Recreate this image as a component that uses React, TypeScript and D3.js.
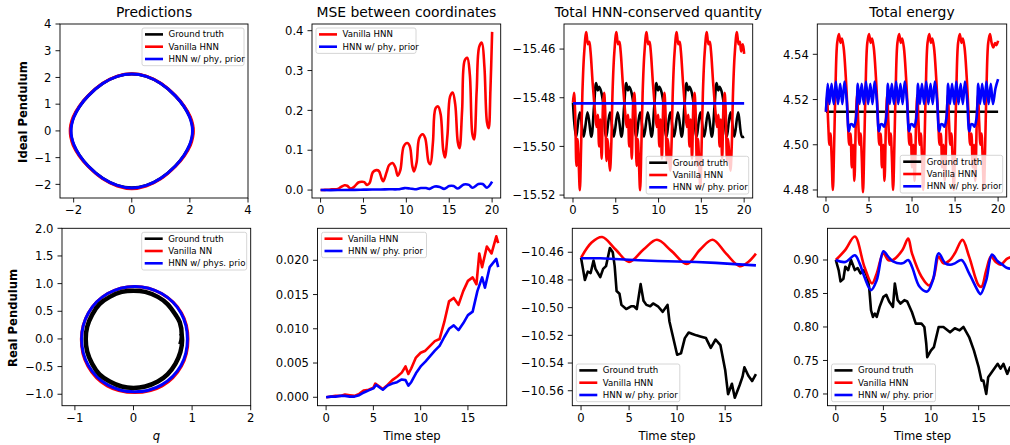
import React from "react";
import * as d3 from "d3";

type Pt = [number, number];

// ---------- Ideal pendulum: phase-space trajectories (q, p) ----------
const idealGroundTruth: Pt[] = [
  [-2.1, 0], [-2.08, 0.23], [-2.0, 0.52], [-1.8, 0.91], [-1.5, 1.31], [-1.0, 1.77], [-0.5, 2.04],
  [0, 2.13], [0.5, 2.04], [1.0, 1.77], [1.5, 1.31], [1.8, 0.91], [2.0, 0.52], [2.08, 0.23],
  [2.1, 0], [2.08, -0.23], [2.0, -0.52], [1.8, -0.91], [1.5, -1.31], [1.0, -1.77], [0.5, -2.04],
  [0, -2.13], [-0.5, -2.04], [-1.0, -1.77], [-1.5, -1.31], [-1.8, -0.91], [-2.0, -0.52], [-2.08, -0.23],
];
const idealVanilla: Pt[] = [
  [-2.12, 0], [-2.1, 0.23], [-2.02, 0.52], [-1.81, 0.92], [-1.5, 1.32], [-1.0, 1.78], [-0.5, 2.05],
  [0, 2.14], [0.5, 2.05], [1.0, 1.78], [1.5, 1.32], [1.81, 0.92], [2.02, 0.52], [2.1, 0.23],
  [2.12, 0], [2.1, -0.23], [2.02, -0.53], [1.81, -0.93], [1.5, -1.33], [1.0, -1.79], [0.5, -2.06],
  [0, -2.16], [-0.5, -2.06], [-1.0, -1.79], [-1.5, -1.33], [-1.81, -0.93], [-2.02, -0.53], [-2.1, -0.23],
];
const idealPrior: Pt[] = [
  [-2.09, 0], [-2.07, 0.23], [-1.99, 0.52], [-1.8, 0.91], [-1.5, 1.31], [-1.0, 1.77], [-0.5, 2.04],
  [0, 2.13], [0.5, 2.04], [1.0, 1.77], [1.5, 1.31], [1.8, 0.91], [1.99, 0.52], [2.07, 0.23],
  [2.09, 0], [2.07, -0.23], [1.99, -0.52], [1.8, -0.91], [1.5, -1.31], [1.0, -1.77], [0.5, -2.04],
  [0, -2.14], [-0.5, -2.04], [-1.0, -1.77], [-1.5, -1.31], [-1.8, -0.91], [-1.99, -0.52], [-2.07, -0.23],
];

// ---------- Ideal pendulum: MSE between coordinates ----------
const mseIdealVanilla: Pt[] = [
  [0, 0], [0.5, 0.0005], [1, 0.001], [1.5, 0.002], [2, 0.003], [2.4, 0.008], [2.8, 0.012], [3.1, 0.011],
  [3.5, 0.004], [3.9, 0.008], [4.4, 0.019], [4.8, 0.021], [5.1, 0.02], [5.4, 0.013], [5.7, 0.017],
  [6.1, 0.045], [6.5, 0.05], [6.8, 0.048], [7.1, 0.03], [7.3, 0.022], [7.7, 0.045], [8.0, 0.063],
  [8.4, 0.068], [8.7, 0.058], [9.0, 0.036], [9.3, 0.05], [9.7, 0.11], [10.1, 0.118], [10.4, 0.11],
  [10.7, 0.06], [10.9, 0.047], [11.2, 0.07], [11.5, 0.13], [11.9, 0.14], [12.2, 0.13], [12.6, 0.07],
  [12.8, 0.065], [13.1, 0.12], [13.4, 0.205], [13.7, 0.21], [14.0, 0.19], [14.3, 0.1], [14.5, 0.082],
  [14.8, 0.14], [15.1, 0.235], [15.4, 0.245], [15.7, 0.215], [16.0, 0.12], [16.2, 0.105], [16.5, 0.2],
  [16.8, 0.325], [17.1, 0.332], [17.4, 0.29], [17.7, 0.14], [17.9, 0.127], [18.2, 0.25], [18.5, 0.36],
  [18.8, 0.37], [19.1, 0.31], [19.4, 0.17], [19.6, 0.155], [19.8, 0.25], [20, 0.397],
];
const mseIdealPrior: Pt[] = [
  [0, 0], [2, 0], [4, 0.0005], [5, 0.001], [6, 0.0015], [7, 0.0015], [8, 0.002], [9, 0.002],
  [9.8, 0.005], [10.4, 0.004], [11, 0.002], [11.7, 0.005], [12.3, 0.005], [12.7, 0.003], [13.3, 0.009],
  [13.9, 0.008], [14.4, 0.003], [15, 0.01], [15.5, 0.01], [16, 0.004], [16.7, 0.014], [17.3, 0.013],
  [17.7, 0.006], [18.4, 0.015], [18.9, 0.015], [19.4, 0.006], [20, 0.021],
];

// ---------- Ideal pendulum: total HNN-conserved quantity ----------
const hnnIdealGroundTruth: Pt[] = [
  [0, -15.482], [0.35, -15.496], [0.8, -15.486], [1.25, -15.496], [1.7, -15.486], [2.15, -15.496],
  [2.45, -15.484], [2.7, -15.474], [2.9, -15.477], [3.05, -15.4755], [3.25, -15.477],
  [3.52, -15.482], [3.87, -15.496], [4.32, -15.486], [4.77, -15.496], [5.22, -15.486], [5.67, -15.496],
  [5.97, -15.484], [6.22, -15.474], [6.42, -15.477], [6.57, -15.4755], [6.77, -15.477],
  [7.04, -15.482], [7.39, -15.496], [7.84, -15.486], [8.29, -15.496], [8.74, -15.486], [9.19, -15.496],
  [9.49, -15.484], [9.74, -15.474], [9.94, -15.477], [10.09, -15.4755], [10.29, -15.477],
  [10.56, -15.482], [10.91, -15.496], [11.36, -15.486], [11.81, -15.496], [12.26, -15.486], [12.71, -15.496],
  [13.01, -15.484], [13.26, -15.474], [13.46, -15.477], [13.61, -15.4755], [13.81, -15.477],
  [14.08, -15.482], [14.43, -15.496], [14.88, -15.486], [15.33, -15.496], [15.78, -15.486], [16.23, -15.496],
  [16.53, -15.484], [16.78, -15.474], [16.98, -15.477], [17.13, -15.4755], [17.33, -15.477],
  [17.6, -15.482], [17.95, -15.496], [18.4, -15.486], [18.85, -15.496], [19.3, -15.486], [19.75, -15.496],
  [20, -15.496],
];
const hnnIdealVanilla: Pt[] = [
  [0, -15.482], [0.12, -15.478], [0.25, -15.486], [0.4, -15.508], [0.52, -15.497], [0.65, -15.505],
  [0.8, -15.518], [0.95, -15.5], [1.1, -15.478], [1.3, -15.462], [1.55, -15.453], [1.75, -15.458],
  [1.9, -15.457], [2.05, -15.461], [2.3, -15.474], [2.55, -15.485], [2.75, -15.492], [2.9, -15.487],
  [3.05, -15.5], [3.2, -15.489], [3.35, -15.505],
  [3.52, -15.482], [3.64, -15.478], [3.77, -15.486], [3.92, -15.506], [4.04, -15.497], [4.17, -15.503],
  [4.32, -15.51], [4.47, -15.5], [4.62, -15.478], [4.82, -15.462], [5.07, -15.453], [5.27, -15.458],
  [5.42, -15.457], [5.57, -15.461], [5.82, -15.474], [6.07, -15.485], [6.27, -15.492], [6.42, -15.487],
  [6.57, -15.5], [6.72, -15.489], [6.87, -15.505],
  [7.04, -15.482], [7.16, -15.478], [7.29, -15.486], [7.44, -15.508], [7.56, -15.497], [7.69, -15.505],
  [7.84, -15.518], [7.99, -15.5], [8.14, -15.478], [8.34, -15.462], [8.59, -15.453], [8.79, -15.458],
  [8.94, -15.457], [9.09, -15.461], [9.34, -15.474], [9.59, -15.485], [9.79, -15.492], [9.94, -15.487],
  [10.09, -15.5], [10.24, -15.489], [10.39, -15.505],
  [10.56, -15.482], [10.68, -15.478], [10.81, -15.486], [10.96, -15.506], [11.08, -15.497], [11.21, -15.503],
  [11.36, -15.51], [11.51, -15.5], [11.66, -15.478], [11.86, -15.462], [12.11, -15.453], [12.31, -15.458],
  [12.46, -15.457], [12.61, -15.461], [12.86, -15.474], [13.11, -15.485], [13.31, -15.492], [13.46, -15.487],
  [13.61, -15.5], [13.76, -15.489], [13.91, -15.505],
  [14.08, -15.482], [14.2, -15.478], [14.33, -15.486], [14.48, -15.508], [14.6, -15.497], [14.73, -15.505],
  [14.88, -15.517], [15.03, -15.5], [15.18, -15.478], [15.38, -15.462], [15.63, -15.453], [15.83, -15.458],
  [15.98, -15.457], [16.13, -15.461], [16.38, -15.474], [16.63, -15.485], [16.83, -15.492], [16.98, -15.487],
  [17.13, -15.5], [17.28, -15.489], [17.43, -15.505],
  [17.6, -15.482], [17.72, -15.478], [17.85, -15.486], [18.0, -15.506], [18.12, -15.497], [18.25, -15.503],
  [18.4, -15.51], [18.55, -15.5], [18.7, -15.478], [18.9, -15.462], [19.15, -15.453], [19.35, -15.458],
  [19.5, -15.457], [19.65, -15.461], [19.85, -15.458], [20, -15.462],
];
const hnnIdealPrior: Pt[] = [[0, -15.4823], [5, -15.4823], [10, -15.4823], [15, -15.4823], [20, -15.4823]];

// ---------- Ideal pendulum: total energy ----------
const energyIdealGroundTruth: Pt[] = [[0, 4.5146], [5, 4.5146], [10, 4.5146], [15, 4.5146], [20, 4.5146]];
const energyIdealVanilla: Pt[] = [
  [0, 4.5146], [0.12, 4.522], [0.25, 4.51], [0.4, 4.5], [0.52, 4.505], [0.65, 4.495], [0.8, 4.48],
  [0.95, 4.5], [1.1, 4.525], [1.3, 4.545], [1.5, 4.549], [1.7, 4.545], [1.85, 4.547], [2.05, 4.543],
  [2.3, 4.53], [2.5, 4.515], [2.7, 4.5], [2.85, 4.505], [3.0, 4.49], [3.15, 4.5], [3.3, 4.484],
  [3.5, 4.5146], [3.62, 4.522], [3.75, 4.51], [3.9, 4.5], [4.02, 4.505], [4.15, 4.495], [4.3, 4.479],
  [4.45, 4.5], [4.6, 4.525], [4.8, 4.545], [5.0, 4.549], [5.2, 4.545], [5.35, 4.547], [5.55, 4.543],
  [5.8, 4.53], [6.0, 4.515], [6.2, 4.5], [6.35, 4.505], [6.5, 4.49], [6.65, 4.5], [6.8, 4.484],
  [7.0, 4.5146], [7.12, 4.522], [7.25, 4.51], [7.4, 4.5], [7.52, 4.505], [7.65, 4.495], [7.8, 4.48],
  [7.95, 4.5], [8.1, 4.525], [8.3, 4.545], [8.5, 4.549], [8.7, 4.545], [8.85, 4.547], [9.05, 4.543],
  [9.3, 4.53], [9.5, 4.515], [9.7, 4.5], [9.85, 4.505], [10.0, 4.49], [10.15, 4.5], [10.3, 4.484],
  [10.5, 4.5146], [10.62, 4.522], [10.75, 4.51], [10.9, 4.5], [11.02, 4.505], [11.15, 4.495], [11.3, 4.48],
  [11.45, 4.5], [11.6, 4.525], [11.8, 4.545], [12.0, 4.549], [12.2, 4.545], [12.35, 4.547], [12.55, 4.543],
  [12.8, 4.53], [13.0, 4.515], [13.2, 4.5], [13.35, 4.505], [13.5, 4.49], [13.65, 4.5], [13.8, 4.484],
  [14.05, 4.5146], [14.17, 4.522], [14.3, 4.51], [14.45, 4.5], [14.57, 4.505], [14.7, 4.495], [14.85, 4.48],
  [15.0, 4.5], [15.15, 4.525], [15.35, 4.545], [15.55, 4.549], [15.75, 4.545], [15.9, 4.547], [16.1, 4.543],
  [16.35, 4.53], [16.55, 4.515], [16.75, 4.5], [16.9, 4.505], [17.05, 4.49], [17.2, 4.5], [17.35, 4.484],
  [17.55, 4.5146], [17.67, 4.522], [17.8, 4.51], [17.95, 4.5], [18.07, 4.505], [18.2, 4.495], [18.35, 4.48],
  [18.5, 4.5], [18.65, 4.525], [18.85, 4.545], [19.05, 4.549], [19.25, 4.545], [19.45, 4.543], [19.65, 4.545],
  [19.8, 4.544], [20, 4.546],
];
const energyIdealPrior: Pt[] = [
  [0, 4.5146], [0.2, 4.527], [0.4, 4.518], [0.65, 4.527], [0.9, 4.518], [1.15, 4.528], [1.4, 4.518],
  [1.65, 4.527], [1.9, 4.518], [2.15, 4.528], [2.4, 4.52], [2.65, 4.506], [2.85, 4.509], [3.05, 4.509],
  [3.25, 4.508], [3.5, 4.512], [3.7, 4.527], [3.9, 4.518], [4.15, 4.527], [4.4, 4.518], [4.65, 4.528],
  [4.9, 4.518], [5.15, 4.527], [5.4, 4.518], [5.65, 4.528], [5.9, 4.52], [6.15, 4.506], [6.35, 4.509],
  [6.55, 4.509], [6.75, 4.508], [7.0, 4.512], [7.2, 4.527], [7.4, 4.518], [7.65, 4.527], [7.9, 4.518],
  [8.15, 4.528], [8.4, 4.518], [8.65, 4.527], [8.9, 4.518], [9.15, 4.528], [9.4, 4.52], [9.65, 4.506],
  [9.85, 4.509], [10.05, 4.509], [10.25, 4.508], [10.5, 4.512], [10.7, 4.527], [10.9, 4.518],
  [11.15, 4.527], [11.4, 4.518], [11.65, 4.528], [11.9, 4.518], [12.15, 4.527], [12.4, 4.518],
  [12.65, 4.528], [12.9, 4.52], [13.15, 4.506], [13.35, 4.509], [13.55, 4.509], [13.75, 4.508],
  [14.0, 4.512], [14.2, 4.527], [14.4, 4.518], [14.65, 4.527], [14.9, 4.518], [15.15, 4.528],
  [15.4, 4.518], [15.65, 4.527], [15.9, 4.518], [16.15, 4.528], [16.4, 4.52], [16.65, 4.506],
  [16.85, 4.509], [17.05, 4.509], [17.25, 4.508], [17.5, 4.512], [17.7, 4.527], [17.9, 4.518],
  [18.15, 4.527], [18.4, 4.518], [18.65, 4.528], [18.9, 4.518], [19.15, 4.527], [19.4, 4.518],
  [19.7, 4.525], [20, 4.529],
];

// ---------- Real pendulum: phase-space trajectories (q, p) ----------
const realGroundTruth: Pt[] = [
  [0.8, -0.1], [0.825, 0.05], [0.79, 0.3], [0.715, 0.44], [0.58, 0.63], [0.415, 0.76], [0.2, 0.85],
  [0.0, 0.872], [-0.2, 0.85], [-0.405, 0.76], [-0.58, 0.63], [-0.705, 0.44], [-0.79, 0.22],
  [-0.815, 0.0], [-0.79, -0.23], [-0.705, -0.45], [-0.58, -0.64], [-0.405, -0.77], [-0.2, -0.86],
  [0.0, -0.885], [0.2, -0.86], [0.415, -0.77], [0.58, -0.64], [0.715, -0.45], [0.8, -0.24],
  [0.83, -0.02], [0.815, 0.1],
];
const realVanilla: Pt[] = [
  [0.93, 0], [0.82, 0.47], [0.48, 0.82], [0.02, 0.95], [-0.44, 0.82], [-0.77, 0.47], [-0.89, 0],
  [-0.78, -0.49], [-0.45, -0.85], [0.02, -0.97], [0.49, -0.85], [0.82, -0.49],
];
const realPrior: Pt[] = [
  [0.92, 0], [0.81, 0.47], [0.48, 0.82], [0.02, 0.95], [-0.44, 0.82], [-0.77, 0.47], [-0.885, 0],
  [-0.77, -0.48], [-0.44, -0.83], [0.02, -0.955], [0.48, -0.83], [0.81, -0.48],
];

// ---------- Real pendulum: MSE between coordinates ----------
const mseRealVanilla: Pt[] = [
  [0, 0], [0.5, 0.0001], [1, 0.0002], [1.5, 0.0002], [2, 0.0004], [2.5, 0.0003], [3, 0.0002],
  [3.5, 0.0005], [4, 0.001], [4.5, 0.0011], [5, 0.0014], [5.2, 0.002], [5.6, 0.0016], [6, 0.0012],
  [6.5, 0.0018], [7, 0.0025], [7.5, 0.003], [8, 0.0036], [8.4, 0.0045], [8.7, 0.0034], [9, 0.0042],
  [9.5, 0.0058], [10, 0.0065], [10.5, 0.0068], [11, 0.0075], [11.5, 0.0082], [12, 0.0085],
  [12.5, 0.011], [13, 0.014], [13.5, 0.0145], [14, 0.0135], [14.5, 0.0155], [15, 0.017], [15.5, 0.0175],
  [15.9, 0.0165], [16.2, 0.021], [16.5, 0.019], [17, 0.022], [17.5, 0.021], [18, 0.0235], [18.2, 0.0225],
];
const mseRealPrior: Pt[] = [
  [0, 0], [0.5, 0.0001], [1, 0.0001], [1.5, 0.0002], [2, 0.0002], [2.5, 0.0001], [3, 0.0001],
  [3.5, 0.0003], [4, 0.0007], [4.5, 0.001], [5, 0.0013], [5.3, 0.0018], [5.7, 0.0014], [6, 0.0011],
  [6.5, 0.0017], [7, 0.002], [7.5, 0.0022], [8, 0.0026], [8.4, 0.0025], [8.7, 0.0017], [9, 0.0022],
  [9.5, 0.0035], [10, 0.0045], [10.5, 0.0052], [11, 0.006], [11.5, 0.0068], [12, 0.0075],
  [12.5, 0.0088], [13, 0.01], [13.5, 0.0105], [14, 0.0098], [14.5, 0.0108], [15, 0.012],
  [15.5, 0.0125], [16, 0.0155], [16.5, 0.0175], [16.8, 0.016], [17.3, 0.019], [18, 0.0202], [18.2, 0.019],
];

// ---------- Real pendulum: total HNN-conserved quantity ----------
const hnnRealGroundTruth: Pt[] = [
  [0, -10.464], [0.2, -10.472], [0.4, -10.48], [0.7, -10.474], [1, -10.475], [1.3, -10.466],
  [1.5, -10.472], [2, -10.478], [2.3, -10.472], [2.6, -10.47], [3, -10.457], [3.3, -10.46],
  [3.5, -10.47], [3.7, -10.488], [4, -10.49], [4.2, -10.498], [4.7, -10.501], [5.2, -10.499],
  [5.5, -10.499], [5.8, -10.501], [6.2, -10.483], [6.5, -10.495], [6.8, -10.498], [7.2, -10.499],
  [7.5, -10.497], [8, -10.499], [8.5, -10.503], [9, -10.498], [9.2, -10.51], [9.5, -10.519],
  [10, -10.534], [10.4, -10.533], [10.8, -10.522], [11.2, -10.518], [11.6, -10.519], [12, -10.52],
  [12.5, -10.521], [13, -10.522], [13.5, -10.529], [14, -10.523], [14.5, -10.527], [15, -10.545],
  [15.3, -10.5625], [15.7, -10.555], [16, -10.565], [16.5, -10.556], [16.8, -10.55], [17, -10.543],
  [17.4, -10.549], [17.8, -10.553], [18.2, -10.548],
];
const hnnRealVanilla: Pt[] = [
  [0, -10.464], [1.1, -10.453], [2.2, -10.449], [3.6, -10.458], [5, -10.467], [6.5, -10.458],
  [7.9, -10.451], [9.4, -10.459], [11, -10.4685], [12.4, -10.458], [13.7, -10.451], [15.1, -10.461],
  [16.5, -10.47], [17.4, -10.467], [18.2, -10.461],
];
const hnnRealPrior: Pt[] = [
  [0, -10.4643], [2, -10.4643], [4, -10.465], [6, -10.4658], [8, -10.4663], [10, -10.4667],
  [12, -10.467], [14, -10.4677], [16, -10.4686], [18.2, -10.4695],
];

// ---------- Real pendulum: total energy ----------
const energyRealGroundTruth: Pt[] = [
  [0, 0.9], [0.3, 0.885], [0.5, 0.868], [0.8, 0.872], [1, 0.89], [1.3, 0.885], [1.6, 0.9], [2, 0.885],
  [2.3, 0.888], [2.6, 0.88], [3, 0.885], [3.3, 0.875], [3.5, 0.86], [3.7, 0.825], [3.9, 0.815],
  [4.1, 0.82], [4.3, 0.815], [4.6, 0.83], [5, 0.845], [5.3, 0.848], [5.6, 0.838], [6, 0.83],
  [6.2, 0.865], [6.5, 0.84], [6.8, 0.835], [7.2, 0.84], [7.5, 0.838], [8, 0.822], [8.4, 0.805],
  [9, 0.805], [9.3, 0.8], [9.5, 0.775], [9.6, 0.755], [10, 0.765], [10.3, 0.77], [10.8, 0.8],
  [11.3, 0.8], [12, 0.792], [12.5, 0.798], [13, 0.795], [13.4, 0.8], [14, 0.785], [14.5, 0.765],
  [15, 0.74], [15.3, 0.72], [15.5, 0.72], [15.8, 0.7], [16, 0.725], [16.5, 0.735], [17, 0.745],
  [17.3, 0.738], [17.6, 0.745], [18, 0.73], [18.3, 0.74], [18.5, 0.74],
];
const energyRealVanilla: Pt[] = [
  [0, 0.9], [1, 0.915], [2, 0.935], [3, 0.89], [3.8, 0.865], [4.3, 0.88], [5, 0.91], [5.5, 0.9],
  [6, 0.9], [7, 0.915], [7.6, 0.932], [8, 0.91], [9, 0.875], [9.8, 0.862], [10.3, 0.875],
  [10.8, 0.905], [11.3, 0.895], [12, 0.9], [12.5, 0.91], [13.3, 0.93], [14, 0.905], [15, 0.862],
  [15.3, 0.86], [15.8, 0.885], [16.3, 0.905], [16.8, 0.897], [17.3, 0.893], [18, 0.902], [18.5, 0.905],
];
const energyRealPrior: Pt[] = [
  [0, 0.9], [1, 0.897], [2, 0.907], [2.5, 0.895], [3, 0.875], [3.7, 0.855], [4.3, 0.87], [5, 0.913],
  [5.5, 0.905], [6, 0.898], [7, 0.895], [7.6, 0.9], [8, 0.89], [8.8, 0.86], [9.6, 0.853],
  [10.2, 0.87], [10.8, 0.91], [11.5, 0.895], [12, 0.893], [12.5, 0.895], [13.2, 0.9], [14, 0.88],
  [15, 0.852], [15.2, 0.849], [15.8, 0.87], [16.4, 0.908], [17, 0.898], [17.5, 0.893], [18, 0.888],
  [18.5, 0.887],
];

// ---------- Tick values ----------
const ticksIdealQ = [-2, 0, 2, 4];
const ticksIdealP = [-2, -1, 0, 1, 2, 3, 4];
const ticksTimeIdeal = [0, 5, 10, 15, 20];
const ticksMseIdeal = [0, 0.1, 0.2, 0.3, 0.4];
const ticksHnnIdeal = [-15.52, -15.5, -15.48, -15.46];
const ticksEnergyIdeal = [4.48, 4.5, 4.52, 4.54];
const ticksRealQ = [-1, 0, 1, 2];
const ticksRealP = [-1, -0.5, 0, 0.5, 1, 1.5, 2];
const ticksTimeReal = [0, 5, 10, 15];
const ticksMseReal = [0, 0.005, 0.01, 0.015, 0.02];
const ticksHnnReal = [-10.56, -10.54, -10.52, -10.5, -10.48, -10.46];
const ticksEnergyReal = [0.7, 0.75, 0.8, 0.85, 0.9];

const FONT = '"DejaVu Sans", "Liberation Sans", sans-serif';
const BLACK = "#000000";
const RED = "#ff0000";
const BLUE = "#0000ff";

interface Series {
  data: Pt[];
  color: string;
  width: number;
  closed?: boolean;
  smooth?: boolean;
}
interface LegendCfg {
  items: { label: string; color: string }[];
  loc: "ur" | "ul" | "lr" | "ll";
  width: number;
}
interface PanelProps {
  id: string;
  left: number;
  top: number;
  width: number;
  height: number;
  xDomain: [number, number];
  yDomain: [number, number];
  xTicks: number[];
  yTicks: number[];
  xFmt: (v: number) => string;
  yFmt: (v: number) => string;
  series: Series[];
  legend: LegendCfg;
  title?: string;
  xLabel?: string;
  xLabelItalic?: boolean;
}

const TICK = 4.5;
const TICK_FONT = 11.6;
const LEG_FONT = 8.6;

function Panel(p: PanelProps) {
  const xs = d3.scaleLinear().domain(p.xDomain).range([p.left, p.left + p.width]);
  const ys = d3.scaleLinear().domain(p.yDomain).range([p.top + p.height, p.top]);
  const bottom = p.top + p.height;
  const clipId = `clip-${p.id}`;

  const n = p.legend.items.length;
  const rowH = 12.3;
  const legH = rowH * n + 0.8;
  const pad = 4;
  const lx = p.legend.loc === "ur" || p.legend.loc === "lr" ? p.left + p.width - pad - p.legend.width : p.left + pad;
  const ly = p.legend.loc === "ur" || p.legend.loc === "ul" ? p.top + pad : bottom - pad - legH;

  return (
    <g>
      <defs>
        <clipPath id={clipId}>
          <rect x={p.left} y={p.top} width={p.width} height={p.height} />
        </clipPath>
      </defs>
      <rect x={p.left} y={p.top} width={p.width} height={p.height} fill="#ffffff" />
      <g clipPath={`url(#${clipId})`}>
        {p.series.map((s, i) => {
          const curve = s.closed
            ? d3.curveCatmullRomClosed.alpha(0.5)
            : s.smooth
            ? d3.curveCatmullRom.alpha(0.5)
            : d3.curveLinear;
          const gen = d3
            .line<Pt>()
            .x((d) => xs(d[0]))
            .y((d) => ys(d[1]))
            .curve(curve);
          return (
            <path
              key={i}
              d={gen(s.data) || ""}
              fill="none"
              stroke={s.color}
              strokeWidth={s.width}
              strokeLinejoin="round"
              strokeLinecap="butt"
            />
          );
        })}
      </g>
      {/* axes frame */}
      <rect x={p.left} y={p.top} width={p.width} height={p.height} fill="none" stroke="#000" strokeWidth={0.9} />
      {/* x ticks */}
      {p.xTicks.map((t) => (
        <g key={`x${t}`}>
          <line x1={xs(t)} x2={xs(t)} y1={bottom} y2={bottom + TICK} stroke="#000" strokeWidth={0.9} />
          <text x={xs(t)} y={bottom + 16} textAnchor="middle" fontSize={TICK_FONT} fontFamily={FONT}>
            {p.xFmt(t)}
          </text>
        </g>
      ))}
      {/* y ticks */}
      {p.yTicks.map((t) => (
        <g key={`y${t}`}>
          <line x1={p.left - TICK} x2={p.left} y1={ys(t)} y2={ys(t)} stroke="#000" strokeWidth={0.9} />
          <text x={p.left - 8.5} y={ys(t) + 4.2} textAnchor="end" fontSize={TICK_FONT} fontFamily={FONT}>
            {p.yFmt(t)}
          </text>
        </g>
      ))}
      {p.title && (
        <text x={p.left + p.width / 2} y={p.top - 7} textAnchor="middle" fontSize={13.9} fontFamily={FONT}>
          {p.title}
        </text>
      )}
      {p.xLabel && (
        <text
          x={p.left + p.width / 2}
          y={bottom + 34}
          textAnchor="middle"
          fontSize={TICK_FONT}
          fontFamily={FONT}
          fontStyle={p.xLabelItalic ? "italic" : "normal"}
        >
          {p.xLabel}
        </text>
      )}
      {/* legend */}
      <g>
        <rect
          x={lx}
          y={ly}
          width={p.legend.width}
          height={legH}
          rx={2}
          fill="#ffffff"
          fillOpacity={0.8}
          stroke="#cccccc"
          strokeWidth={0.8}
        />
        {p.legend.items.map((it, i) => {
          const cy = ly + 6.4 + i * rowH;
          return (
            <g key={it.label}>
              <line x1={lx + 3} x2={lx + 21} y1={cy} y2={cy} stroke={it.color} strokeWidth={2.6} />
              <text x={lx + 26.5} y={cy + 3} fontSize={LEG_FONT} fontFamily={FONT}>
                {it.label}
              </text>
            </g>
          );
        })}
      </g>
    </g>
  );
}

const fmtInt = d3.format("d");
const fmt1 = d3.format(".1f");
const fmt2 = d3.format(".2f");
const fmt3 = d3.format(".3f");

export default function App() {
  const legIdeal = [
    { label: "Ground truth", color: BLACK },
    { label: "Vanilla HNN", color: RED },
    { label: "HNN w/ phy, prior", color: BLUE },
  ];
  const legIdealDot = [
    { label: "Ground truth", color: BLACK },
    { label: "Vanilla HNN", color: RED },
    { label: "HNN w/ phy. prior", color: BLUE },
  ];
  const legReal = [
    { label: "Ground truth", color: BLACK },
    { label: "Vanilla NN", color: RED },
    { label: "HNN w/ phys. prio", color: BLUE },
  ];

  return (
    <svg
      width={1010}
      height={445}
      viewBox="0 0 1010 445"
      style={{ position: "fixed", left: 0, top: 0, background: "#ffffff" }}
      xmlns="http://www.w3.org/2000/svg"
    >
      <rect x={0} y={0} width={1010} height={445} fill="#ffffff" />

      {/* Row labels */}
      <text
        transform="translate(22.5,112) rotate(-90)"
        textAnchor="middle"
        dominantBaseline="central"
        fontSize={11.6}
        fontWeight="bold"
        fontFamily={FONT}
      >
        Ideal Pendulum
      </text>
      <text
        transform="translate(12.5,318) rotate(-90)"
        textAnchor="middle"
        dominantBaseline="central"
        fontSize={11.6}
        fontWeight="bold"
        fontFamily={FONT}
      >
        Real Pendulum
      </text>

      <Panel
        id="p1"
        left={60}
        top={24}
        width={188}
        height={174}
        xDomain={[-2.47, 4]}
        yDomain={[-2.51, 4]}
        xTicks={ticksIdealQ}
        yTicks={ticksIdealP}
        xFmt={fmtInt}
        yFmt={fmtInt}
        title="Predictions"
        series={[
          { data: idealGroundTruth, color: BLACK, width: 3, closed: true },
          { data: idealVanilla, color: RED, width: 3, closed: true },
          { data: idealPrior, color: BLUE, width: 3, closed: true },
        ]}
        legend={{ items: legIdeal, loc: "ur", width: 102 }}
      />
      <Panel
        id="p2"
        left={312}
        top={24}
        width={188.7}
        height={174}
        xDomain={[-1, 21]}
        yDomain={[-0.0199, 0.4168]}
        xTicks={ticksTimeIdeal}
        yTicks={ticksMseIdeal}
        xFmt={fmtInt}
        yFmt={fmt1}
        title="MSE between coordinates"
        series={[
          { data: mseIdealVanilla, color: RED, width: 2.6, smooth: true },
          { data: mseIdealPrior, color: BLUE, width: 2.6, smooth: true },
        ]}
        legend={{
          items: [
            { label: "Vanilla HNN", color: RED },
            { label: "HNN w/ phy, prior", color: BLUE },
          ],
          loc: "ul",
          width: 100,
        }}
      />
      <Panel
        id="p3"
        left={564}
        top={24}
        width={188.7}
        height={174}
        xDomain={[-1.05, 21]}
        yDomain={[-15.5212, -15.4497]}
        xTicks={ticksTimeIdeal}
        yTicks={ticksHnnIdeal}
        xFmt={fmtInt}
        yFmt={fmt2}
        title="Total HNN-conserved quantity"
        series={[
          { data: hnnIdealGroundTruth, color: BLACK, width: 2.6, smooth: true },
          { data: hnnIdealVanilla, color: RED, width: 2.6, smooth: true },
          { data: hnnIdealPrior, color: BLUE, width: 2.6 },
        ]}
        legend={{ items: legIdealDot, loc: "lr", width: 102.5 }}
      />
      <Panel
        id="p4"
        left={817.3}
        top={24}
        width={189.4}
        height={173}
        xDomain={[-1.01, 21]}
        yDomain={[4.4769, 4.5534]}
        xTicks={ticksTimeIdeal}
        yTicks={ticksEnergyIdeal}
        xFmt={fmtInt}
        yFmt={fmt2}
        title="Total energy"
        series={[
          { data: energyIdealGroundTruth, color: BLACK, width: 2.6 },
          { data: energyIdealVanilla, color: RED, width: 2.6, smooth: true },
          { data: energyIdealPrior, color: BLUE, width: 2.6, smooth: true },
        ]}
        legend={{ items: legIdealDot, loc: "lr", width: 102.5 }}
      />

      <Panel
        id="p5"
        left={62}
        top={228.3}
        width={188.7}
        height={177.4}
        xDomain={[-1.22, 2]}
        yDomain={[-1.207, 2]}
        xTicks={ticksRealQ}
        yTicks={ticksRealP}
        xFmt={fmtInt}
        yFmt={fmt1}
        xLabel="q"
        xLabelItalic
        series={[
          { data: realVanilla, color: RED, width: 3, closed: true },
          { data: realPrior, color: BLUE, width: 3, closed: true },
          { data: realGroundTruth, color: BLACK, width: 4.5, smooth: true },
        ]}
        legend={{ items: legReal, loc: "ur", width: 105 }}
      />
      <Panel
        id="p6"
        left={317.5}
        top={228.3}
        width={189.2}
        height={177.4}
        xDomain={[-0.91, 19.1]}
        yDomain={[-0.00123, 0.02467]}
        xTicks={ticksTimeReal}
        yTicks={ticksMseReal}
        xFmt={fmtInt}
        yFmt={fmt3}
        xLabel="Time step"
        series={[
          { data: mseRealVanilla, color: RED, width: 2.6 },
          { data: mseRealPrior, color: BLUE, width: 2.6 },
        ]}
        legend={{
          items: [
            { label: "Vanilla HNN", color: RED },
            { label: "HNN w/ phy. prior", color: BLUE },
          ],
          loc: "ul",
          width: 105,
        }}
      />
      <Panel
        id="p7"
        left={572.3}
        top={228.3}
        width={189.4}
        height={177.4}
        xDomain={[-0.91, 18.8]}
        yDomain={[-10.5708, -10.4427]}
        xTicks={ticksTimeReal}
        yTicks={ticksHnnReal}
        xFmt={fmtInt}
        yFmt={fmt2}
        xLabel="Time step"
        series={[
          { data: hnnRealGroundTruth, color: BLACK, width: 2.6 },
          { data: hnnRealVanilla, color: RED, width: 2.6, smooth: true },
          { data: hnnRealPrior, color: BLUE, width: 2.6 },
        ]}
        legend={{ items: legIdealDot, loc: "ll", width: 103.5 }}
      />
      <Panel
        id="p8"
        left={827.5}
        top={228.3}
        width={190.2}
        height={177.4}
        xDomain={[-0.87, 19.1]}
        yDomain={[0.6825, 0.9473]}
        xTicks={ticksTimeReal}
        yTicks={ticksEnergyReal}
        xFmt={fmtInt}
        yFmt={fmt2}
        xLabel="Time step"
        series={[
          { data: energyRealGroundTruth, color: BLACK, width: 2.6 },
          { data: energyRealVanilla, color: RED, width: 2.6, smooth: true },
          { data: energyRealPrior, color: BLUE, width: 2.6, smooth: true },
        ]}
        legend={{ items: legIdealDot, loc: "ll", width: 104 }}
      />
    </svg>
  );
}
